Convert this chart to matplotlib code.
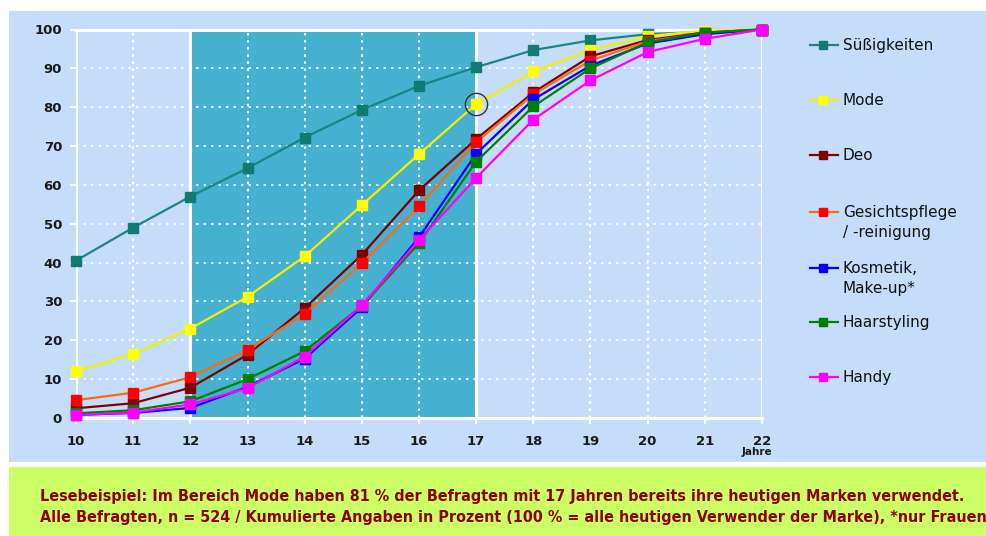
import matplotlib
matplotlib.use("Agg")
import matplotlib.pyplot as plt
from matplotlib.patches import Rectangle
from matplotlib.lines import Line2D

# Alter in Jahren
jahre = [10, 11, 12, 13, 14, 15, 16, 17, 18, 19, 20, 21, 22]

suessigkeiten = [40.5, 49, 57, 64.3, 72.2, 79.3, 85.5, 90.3, 94.7, 97.2, 98.8, 99.4, 100]
mode = [12, 16.5, 23, 31.2, 41.6, 54.8, 67.9, 80.8, 89.2, 94.7, 98.3, 99.7, 100]
deo = [2.5, 3.8, 7.8, 16.3, 28.3, 42, 58.6, 71.8, 83.8, 93.1, 97.3, 99.2, 100]
gesichtspflege = [4.6, 6.5, 10.5, 17.5, 26.8, 39.8, 54.5, 71, 83.3, 92, 97, 99, 100]
kosmetik = [0.8, 1.3, 2.6, 8, 15.3, 28.5, 46.5, 68, 82, 90.7, 96.4, 98.8, 100]
haarstyling = [1.2, 2, 4.3, 10, 17.2, 28.8, 45, 66, 80.2, 90, 96.7, 99.2, 100]
handy = [0.8, 1.4, 3.5, 7.7, 15.8, 29, 45.8, 61.8, 76.8, 86.9, 94.2, 97.6, 100]

serien = [
    ("Süßigkeiten", suessigkeiten, "#1b8580", "#107a74"),
    ("Mode", mode, "#f2f000", "#ffff00"),
    ("Deo", deo, "#800000", "#800000"),
    ("Gesichtspflege\n/ -reinigung", gesichtspflege, "#ff6a10", "#ff0000"),
    ("Kosmetik,\nMake-up*", kosmetik, "#0000ff", "#0000ff"),
    ("Haarstyling", haarstyling, "#008000", "#008000"),
    ("Handy", handy, "#ff00ff", "#ff00ff"),
]

bereich = (12, 17)
beispiel = (17, 80.8)

W, H = 986, 536
fig = plt.figure(figsize=(W / 100, H / 100), dpi=100)
fig.patch.set_facecolor("white")

# Hintergrundflaechen
fig.patches.append(Rectangle((9 / W, 1 - 462 / H), 977 / W, 451 / H,
                             transform=fig.transFigure, facecolor="#c5ddfb",
                             edgecolor="none", zorder=-1))
fig.patches.append(Rectangle((9 / W, 0), 977 / W, (536 - 467) / H,
                             transform=fig.transFigure, facecolor="#ccff66",
                             edgecolor="none", zorder=-1))

ax = fig.add_axes([76 / W, 1 - 418 / H, 686 / W, (418 - 29.5) / H])
ax.set_zorder(2)
ax.set_facecolor("#c5ddfb")
ax.set_xlim(10, 22)
ax.set_ylim(0, 100)
for s in ax.spines.values():
    s.set_visible(False)

ax.add_patch(Rectangle((bereich[0], 0), bereich[1] - bereich[0], 99.3,
                       facecolor="#45b0d0", edgecolor="none", zorder=0.5))

# gepunktetes Gitter
for x in jahre:
    if x not in (10, 12, 17, 22):
        ax.axvline(x, color="white", lw=1.5, ls=(0, (1.2, 2.2)), zorder=1)
for y in range(10, 100, 10):
    ax.axhline(y, color="white", lw=1.2, ls=(0, (1.5, 3)), zorder=1)
for x in (10, 12, 17, 22):
    ax.axvline(x, color="white", lw=2.2, zorder=1.2)
ax.axhline(0, color="white", lw=2.2, zorder=1.2, clip_on=False)
ax.axhline(100, color="white", lw=2.2, zorder=1.2, clip_on=False)

for name, werte, lc, mc in serien:
    ax.plot(jahre, werte, color=lc, lw=1.6, marker="s", ms=6.5,
            mfc=mc, mec=mc, zorder=3, clip_on=False)

ax.plot([beispiel[0]], [beispiel[1]], marker="o", ms=16, mfc="none",
        mec="#333333", mew=1, zorder=4)

ax.set_xticks(jahre)
ax.set_yticks(range(0, 101, 10))
ax.tick_params(axis="both", colors="white", length=4, width=1.5,
               labelcolor="#1a1a1a", labelsize=9.5)
ax.tick_params(axis="x", pad=8)
ax.tick_params(axis="y", pad=6)
for lab in ax.get_xticklabels() + ax.get_yticklabels():
    lab.set_fontweight("bold")

fig.text(757 / W, 1 - 452 / H, "Jahre", ha="center", va="center",
         fontsize=7.5, fontweight="bold", color="#1a1a1a")

# Legende
leg_y = [45, 100, 155, 212, 268, 322, 377]
for (name, werte, lc, mc), y in zip(serien, leg_y):
    yf = 1 - y / H
    fig.lines.append(Line2D([810 / W, 838 / W], [yf, yf], color=lc, lw=1.6,
                            transform=fig.transFigure))
    fig.lines.append(Line2D([823 / W], [yf], marker="s", ms=6, mfc=mc, mec=mc,
                            transform=fig.transFigure))
    fig.text(843 / W, 1 - (y - 7) / H, name, ha="left", va="top",
             fontsize=11, color="#111111", linespacing=1.45)

fuss = ("Lesebeispiel: Im Bereich Mode haben 81 % der Befragten mit 17 Jahren bereits ihre heutigen Marken verwendet.\n"
        "Alle Befragten, n = 524 / Kumulierte Angaben in Prozent (100 % = alle heutigen Verwender der Marke), *nur Frauen")
fig.text(40 / W, 1 - 507 / H, fuss, ha="left", va="center", fontsize=11.5,
         fontweight="bold", color="#8b0000", linespacing=1.5,
         family=["Liberation Sans Narrow", "DejaVu Sans"], fontstretch="condensed")

fig.savefig("out.png", dpi=100)
